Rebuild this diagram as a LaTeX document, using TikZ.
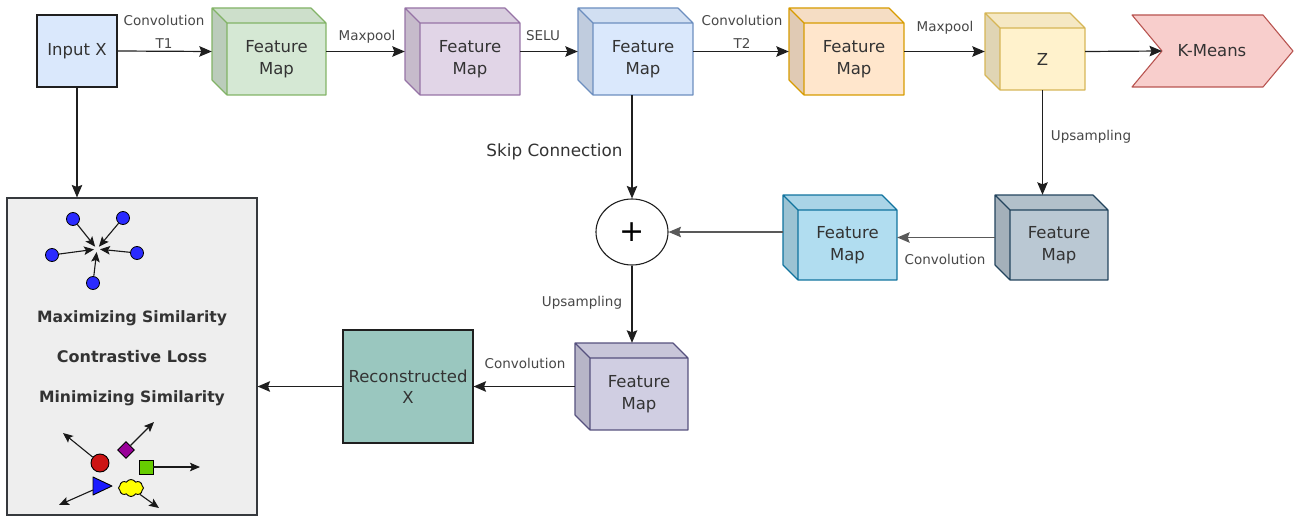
\documentclass[tikz,border=0pt]{standalone}
\usepackage{fontspec}
\setmainfont{DejaVu Sans}
\usetikzlibrary{arrows.meta,shapes.geometric,shapes.symbols,fit,calc}

\definecolor{inputfill}{HTML}{DAE8FC}
\definecolor{gfill}{HTML}{D5E8D4}\definecolor{gline}{HTML}{82B366}
\definecolor{pfill}{HTML}{E1D5E7}\definecolor{pline}{HTML}{9673A6}
\definecolor{bfill}{HTML}{DAE8FC}\definecolor{bline}{HTML}{6C8EBF}
\definecolor{ofill}{HTML}{FFE6CC}\definecolor{oline}{HTML}{D79B00}
\definecolor{yfill}{HTML}{FFF2CC}\definecolor{yline}{HTML}{D6B656}
\definecolor{kfill}{HTML}{F8CECC}\definecolor{kline}{HTML}{B85450}
\definecolor{lbfill}{HTML}{B1DDF0}\definecolor{lbline}{HTML}{10739E}
\definecolor{gbfill}{HTML}{BAC8D3}\definecolor{gbline}{HTML}{23445D}
\definecolor{p2fill}{HTML}{D0CEE2}\definecolor{p2line}{HTML}{56517E}
\definecolor{recfill}{HTML}{9AC7BF}
\definecolor{panelfill}{HTML}{EEEEEE}\definecolor{panelline}{HTML}{36393D}
\definecolor{txt}{HTML}{333333}
\definecolor{dotblue}{HTML}{2A2AFF}
\definecolor{icred}{HTML}{CC1414}
\definecolor{icpurple}{HTML}{990099}
\definecolor{icgreen}{HTML}{66CC00}
\definecolor{icblue}{HTML}{1A1AFF}
\definecolor{icyellow}{HTML}{FFFF00}

\tikzset{
  arr/.style={draw=black!88, line width=1.2pt, -{Stealth[length=12.5pt,width=10.5pt,inset=2pt]}},
  garr/.style={arr, draw=black!65},
  sarr/.style={draw=black!90, line width=1.1pt, -{Stealth[length=10pt,width=8.5pt,inset=2pt]}},
  lbl/.style={font=\fontsize{13.5}{23}\selectfont, text=txt!90, align=center, inner sep=0},
  mainfont/.style={font=\fontsize{16.5}{21.5}\selectfont, text=txt, align=center, inner sep=0},
  boldtxt/.style={font=\bfseries\fontsize{15.6}{19}\selectfont, text=txt, inner sep=0},
  dot/.style={circle, fill=dotblue, draw=black, line width=0.8pt, minimum size=13pt, inner sep=0},
}

% cube: name, x0, y0, x1, y1, fill, line, text
\newcommand\cubebox[8]{%
  \fill[#6!88!black] (#2,#3) -- ({#2+15},{#3+15}) -- ({#2+15},#5) -- (#2,{#5-15}) -- cycle;
  \fill[#6!96!black] (#2,#3) -- ({#4-15},#3) -- (#4,{#3+15}) -- ({#2+15},{#3+15}) -- cycle;
  \fill[#6] ({#2+15},{#3+15}) rectangle (#4,#5);
  \draw[#7, line width=1.1pt, line join=round]
    (#2,#3) -- ({#4-15},#3) -- (#4,{#3+15}) -- (#4,#5) -- ({#2+15},#5) -- (#2,{#5-15}) -- cycle
    (#2,#3) -- ({#2+15},{#3+15}) -- (#4,{#3+15})
    ({#2+15},{#3+15}) -- ({#2+15},#5);
  \coordinate (#1-a) at (#2,#3);
  \coordinate (#1-b) at (#4,#5);
  \node[fit=(#1-a)(#1-b), inner sep=0] (#1) {};
  \node[mainfont] (#1-f) at ($({#2+15},{#3+15})!0.5!(#4,#5)$) {#8};
}

\begin{document}
\begin{tikzpicture}[x=1pt,y=-1pt]
\useasboundingbox (0,0) rectangle (1306,516);

% ---------- top row ----------
\node[draw=black!88, line width=1.1pt, fill=inputfill, minimum width=80pt, minimum height=72pt, mainfont] (in) at (77,51) {Input X};

\cubebox{c1}{212}{8}{326}{95}{gfill}{gline}{Feature\\Map}
\cubebox{c2}{405}{8}{520}{95}{pfill}{pline}{Feature\\Map}
\cubebox{c3}{578}{8}{693}{95}{bfill}{bline}{Feature\\Map}
\cubebox{c4}{789}{8}{904}{95}{ofill}{oline}{Feature\\Map}
\cubebox{z}{985}{13}{1085}{90}{yfill}{yline}{Z}

\filldraw[fill=kfill, draw=kline, line width=1.1pt, line join=round]
  (1132,15) -- (1263,15) -- (1293,51) -- (1263,87) -- (1132,87) -- (1162,51) -- cycle;
\coordinate (kmn) at (1162,51);
\node[mainfont] (km) at (1212,51) {K-Means};

\draw[arr] (in.east) -- (c1.west);
\draw[arr] (c1.east) -- (c2.west);
\draw[arr] (c2.east) -- (c3.west);
\draw[arr] (c3.east) -- (c4.west);
\draw[arr] (c4.east) -- (z.west);
\draw[arr] (z.east) -- (kmn);

\node[lbl] (l1) at (164,31.5) {Convolution\\T1};
\node[lbl] (l2) at (367,37) {Maxpool};
\node[lbl] (l3) at (543,36) {SELU};
\node[lbl] (l4) at (742,31.5) {Convolution\\T2};
\node[lbl] (l5) at (945,28) {Maxpool};

% ---------- middle ----------
\node[ellipse, draw=black!88, line width=1.1pt, fill=white, minimum width=72pt, minimum height=66pt, inner sep=0,
      font=\fontsize{30}{30}\selectfont, text=black] (plus) at (632,232) {+};

\cubebox{lb}{783}{195}{897}{280}{lbfill}{lbline}{Feature\\Map}
\cubebox{gb}{995}{195}{1108}{280}{gbfill}{gbline}{Feature\\Map}
\cubebox{p2}{575}{343}{688}{430}{p2fill}{p2line}{Feature\\Map}

\draw[arr] (plus.north |- c3.south) -- (plus.north);
\node[mainfont, font=\fontsize{16.8}{20}\selectfont] (skip) at (554.5,152) {Skip Connection};

\draw[arr] (z-f |- z.south) -- (z-f |- gb.north);
\node[lbl] (l6) at (1091,137) {Upsampling};

\draw[garr] (gb.west) -- (lb.east);
\node[lbl] (l7) at (945,259) {Convolution};

\draw[garr] (lb.west |- plus.east) -- (plus.east);

\draw[arr] (plus.south) -- (plus.south |- p2.north);
\node[lbl] (l8) at (582,303) {Upsampling};

% ---------- bottom ----------
\node[draw=black!88, line width=1.1pt, fill=recfill, minimum width=130pt, minimum height=113pt, mainfont] (rec) at (408,386.5) {Reconstructed\\X};
\draw[arr] (p2.west) -- (rec.east);
\node[lbl] (l9) at (525,363) {Convolution};

\node[draw=panelline, line width=1.1pt, fill=panelfill, minimum width=250pt, minimum height=317pt, inner sep=0] (panel) at (132,356.5) {};
\draw[arr] (rec.west) -- (rec.west -| panel.east);
\draw[arr] (in.south) -- (in.south |- panel.north);

% panel texts
\node[boldtxt] (t1) at (132,318) {Maximizing Similarity};
\node[boldtxt, font=\bfseries\fontsize{16}{19}\selectfont] (t2) at (132,357) {Contrastive Loss};
\node[boldtxt] (t3) at (132,398) {Minimizing Similarity};

% attraction icon
\coordinate (cc) at (97,249);
\node[dot] (d1) at (73,219) {};
\node[dot] (d2) at (123,218) {};
\node[dot] (d3) at (52,255) {};
\node[dot] (d4) at (137,253) {};
\node[dot] (d5) at (93,283) {};
\foreach \d in {d1,d2,d3,d4,d5} \draw[sarr, shorten >=3pt] (\d) -- (cc);

% repulsion icon
\node[circle, fill=icred, draw=black, line width=0.9pt, minimum size=18pt, inner sep=0] (rc) at (100,463) {};
\coordinate (rct) at (63,433);
\draw[sarr] (rc) -- (rct);

\node[diamond, fill=icpurple, draw=black, line width=0.9pt, minimum size=17pt, inner sep=0] (dm) at (126,450) {};
\coordinate (dmt) at (154,422);
\draw[sarr] (dm) -- (dmt);

\node[rectangle, fill=icgreen, draw=black, line width=0.9pt, minimum size=14pt, inner sep=0] (sq) at (146,467) {};
\coordinate (sqt) at (200,467);
\draw[sarr] (sq.east) -- (sqt);

\filldraw[fill=icblue, draw=black, line width=0.9pt, line join=round] (93,477) -- (112,486) -- (93,495) -- cycle;
\coordinate (trs) at (93,490);
\coordinate (trt) at (59,505);
\draw[sarr] (trs) -- (trt);

\node[cloud, cloud puffs=8, cloud puff arc=120, aspect=1.6, fill=icyellow, draw=black, line width=0.9pt,
      minimum width=25pt, minimum height=17pt, inner sep=0] (cl) at (131,488) {};
\coordinate (clt) at (159,508);
\draw[sarr] (cl) -- (clt);
\end{tikzpicture}
\end{document}
